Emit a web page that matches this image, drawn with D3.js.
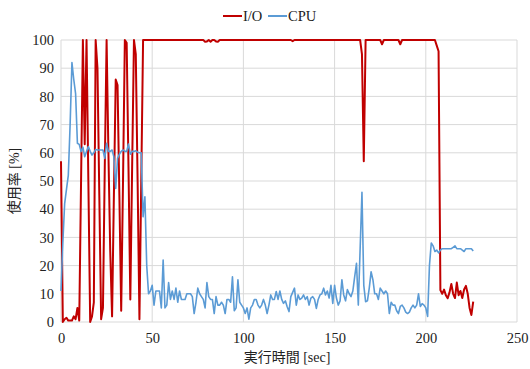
<!DOCTYPE html>
<html>
<head>
<meta charset="utf-8">
<script src="https://cdn.jsdelivr.net/npm/d3@7"></script>
<style>
  body { margin: 0; background: #fff; }
  svg { display: block; font-family: "Liberation Serif", "Noto Sans CJK JP", serif; }
</style>
</head>
<body>
<svg width="530" height="369"></svg>
<script>
// one sample per second, index = time [sec]
var ioUsage = [
  57, 0, 1, 1.5, 0.5, 0.5, 0.5, 2, 1, 5,
  0.5, 50, 100, 63, 100, 50, 0, 2, 7, 100,
  90, 45, 1, 5, 55, 100, 60, 25, 2, 45,
  86, 84, 45, 4, 50, 100, 99, 55, 8, 55,
  100, 95, 50, 1, 50, 100, 100, 100, 100, 100,
  100, 100, 100, 100, 100, 100, 100, 100, 100, 100,
  100, 100, 100, 100, 100, 100, 100, 100, 100, 100,
  100, 100, 100, 100, 100, 100, 100, 100, 100, 99.4,
  99.5, 100, 99.4, 100, 100, 99.5, 99.4, 100, 100, 100,
  100, 100, 100, 100, 100, 100, 100, 100, 100, 100,
  100, 100, 100, 100, 100, 100, 100, 100, 100, 100,
  100, 100, 100, 100, 100, 100, 100, 100, 100, 100,
  100, 100, 100, 100, 100, 100, 100, 99.6, 100, 100,
  100, 100, 100, 100, 100, 100, 100, 100, 100, 100,
  100, 100, 100, 100, 100, 100, 100, 100, 100, 100,
  100, 100, 100, 100, 100, 100, 100, 100, 100, 100,
  100, 100, 100, 100, 100, 95, 57, 100, 100, 100,
  100, 100, 100, 100, 100, 100, 98.5, 100, 100, 100,
  100, 100, 100, 100, 100, 100, 98.5, 100, 100, 100,
  100, 100, 100, 100, 100, 100, 100, 100, 100, 100,
  100, 100, 100, 100, 100, 100, 98, 96, 11.3, 10,
  11.5, 9.5, 8.4, 10.5, 13.5, 10, 8.5, 14, 9.5, 11,
  8.5, 11.5, 12.8, 10, 5, 2.5, 7.2
];

var cpuUsage = [
  11, 28, 42, 47, 52, 70, 92, 86, 81, 63.4,
  63, 60.4, 62, 58.6, 60.5, 62.2, 60.5, 59.2, 60, 61.2,
  61, 61, 61, 61, 58, 63.4, 60.5, 60.5, 61, 58.6,
  47.4, 58, 59.5, 60.5, 61, 60.5, 60.5, 63.1, 59.5, 60.5,
  60.5, 60.7, 60.2, 60, 60, 37.3, 44.4, 20, 10, 11,
  13, 6, 11, 11, 11, 5, 22, 5, 6, 14,
  8, 11, 8, 12, 7, 11, 8, 8, 8, 10,
  10, 10, 9, 3, 7, 12, 10, 9, 8, 5,
  14, 9, 8, 8, 3, 9, 6, 6, 7, 6,
  3, 8, 8, 7, 16, 4, 5, 15, 7, 6,
  5, 3, 5, 1, 5, 6, 8, 8, 6, 5,
  6, 8, 6, 3, 6, 9.6, 8, 8, 10.8, 8,
  11, 8, 6.6, 7.5, 5.4, 3.7, 9, 10.5, 12, 6,
  9.6, 8, 8.5, 9.6, 8, 9, 6, 8.5, 9, 8,
  4.8, 8, 9.6, 10, 12, 9.6, 11, 8.5, 13, 6.6,
  13, 8.5, 6, 7.5, 15, 9.6, 7.5, 11.5, 10, 9,
  11, 16, 20.8, 6, 26, 46, 13, 7.2, 7.5, 12,
  17.8, 15, 10, 10, 8, 12, 11, 10, 11, 10,
  3, 7, 6, 6, 4, 3, 5.5, 6, 5, 3.5,
  3, 3.5, 5, 6, 5, 6, 10, 5.5, 6.5, 6,
  5, 2, 20, 28, 27, 25, 25.5, 24.5, 25.5, 26,
  26, 26, 26, 26, 26, 26.5, 27, 26, 26, 26,
  25.5, 25, 26, 26, 26, 26, 25.2
];

var seriesNames = ["I/O", "CPU"];
var seriesColors = ["#c00000", "#5b9bd5"];
var xTicks = [0, 50, 100, 150, 200, 250];
var yTicks = [0, 10, 20, 30, 40, 50, 60, 70, 80, 90, 100];

var svg = d3.select("svg");
var margin = {left: 61, right: 13, top: 40, bottom: 47};
var width = 530 - margin.left - margin.right,
    height = 369 - margin.top - margin.bottom;

var x = d3.scaleLinear().domain([0, 250]).range([0, width]);
var y = d3.scaleLinear().domain([0, 100]).range([height, 0]);

var g = svg.append("g")
    .attr("transform", "translate(" + margin.left + "," + margin.top + ")");

// gridlines
g.append("g")
    .selectAll("line")
    .data(yTicks)
    .enter().append("line")
    .attr("x1", 0).attr("x2", width)
    .attr("y1", function(d) { return y(d); })
    .attr("y2", function(d) { return y(d); })
    .attr("stroke", "#d9d9d9").attr("stroke-width", 1);

g.append("g")
    .selectAll("line")
    .data(xTicks)
    .enter().append("line")
    .attr("y1", 0).attr("y2", height)
    .attr("x1", function(d) { return x(d); })
    .attr("x2", function(d) { return x(d); })
    .attr("stroke", "#d9d9d9").attr("stroke-width", 1);

// axes (labels only)
var xAxis = g.append("g")
    .attr("transform", "translate(0," + height + ")")
    .call(d3.axisBottom(x).tickValues(xTicks).tickSize(0).tickPadding(11));
var yAxis = g.append("g")
    .call(d3.axisLeft(y).tickValues(yTicks).tickSize(0).tickPadding(7));
[xAxis, yAxis].forEach(function(a) {
  a.select(".domain").remove();
  a.selectAll("text")
      .attr("font-family", "Liberation Serif")
      .attr("font-size", "14.5px")
      .attr("fill", "#222");
});

// series
var line = d3.line()
    .x(function(d, i) { return x(i); })
    .y(function(d) { return y(d); });

var series = [ioUsage, cpuUsage];
var widths = [2, 1.6];
series.forEach(function(s, k) {
  g.append("path")
      .datum(s)
      .attr("fill", "none")
      .attr("stroke", seriesColors[k])
      .attr("stroke-width", widths[k])
      .attr("stroke-linejoin", "round")
      .attr("d", line);
});

// legend
var legendX = [223, 268];
var legend = svg.append("g");
seriesNames.forEach(function(name, k) {
  legend.append("line")
      .attr("x1", legendX[k]).attr("x2", legendX[k] + 19)
      .attr("y1", 16).attr("y2", 16)
      .attr("stroke", seriesColors[k]).attr("stroke-width", 2);
  legend.append("text")
      .attr("x", legendX[k] + 20).attr("y", 21)
      .attr("font-size", "14.5px")
      .attr("fill", "#222")
      .text(name);
});

// axis titles
svg.append("text")
    .attr("x", margin.left + width / 2 - 2).attr("y", 362)
    .attr("text-anchor", "middle")
    .attr("font-size", "14px")
    .attr("fill", "#222")
    .text("実行時間 [sec]");

svg.append("text")
    .attr("transform", "translate(19," + (margin.top + height / 2) + ") rotate(-90)")
    .attr("text-anchor", "middle")
    .attr("font-size", "14px")
    .attr("fill", "#222")
    .text("使用率 [%]");
</script>
</body>
</html>
